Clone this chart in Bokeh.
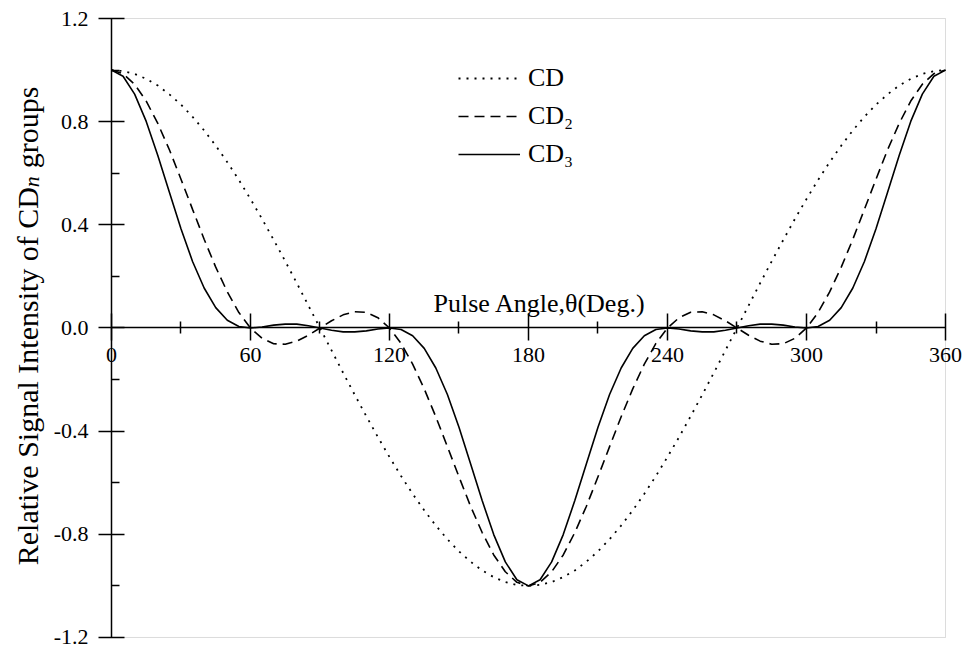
import math
from bokeh.plotting import figure
from bokeh.models import (Range1d, FixedTicker, PrintfTickFormatter, Label, Legend,
                          LegendItem, BoxAnnotation)
from bokeh.embed import file_html
from bokeh.resources import INLINE

# ---- data ----
theta = [0, 5, 10, 15, 20, 25, 30, 35, 40, 45, 50, 55, 60, 65, 70, 75, 80, 85, 90,
         95, 100, 105, 110, 115, 120, 125, 130, 135, 140, 145, 150, 155, 160, 165, 170, 175, 180,
         185, 190, 195, 200, 205, 210, 215, 220, 225, 230, 235, 240, 245, 250, 255, 260, 265, 270,
         275, 280, 285, 290, 295, 300, 305, 310, 315, 320, 325, 330, 335, 340, 345, 350, 355, 360]

cd = [1.000, 0.996, 0.985, 0.966, 0.940, 0.906, 0.866, 0.819, 0.766, 0.707, 0.643, 0.574, 0.500, 0.423, 0.342, 0.259, 0.174, 0.087, 0.000,
      -0.087, -0.174, -0.259, -0.342, -0.423, -0.500, -0.574, -0.643, -0.707, -0.766, -0.819, -0.866, -0.906, -0.940, -0.966, -0.985, -0.996, -1.000,
      -0.996, -0.985, -0.966, -0.940, -0.906, -0.866, -0.819, -0.766, -0.707, -0.643, -0.574, -0.500, -0.423, -0.342, -0.259, -0.174, -0.087, 0.000,
      0.087, 0.174, 0.259, 0.342, 0.423, 0.500, 0.574, 0.643, 0.707, 0.766, 0.819, 0.866, 0.906, 0.940, 0.966, 0.985, 0.996, 1.000]

cd2 = [1.000, 0.986, 0.945, 0.880, 0.793, 0.691, 0.577, 0.460, 0.344, 0.236, 0.140, 0.060, 0.000, -0.040, -0.061, -0.063, -0.051, -0.028, 0.000,
       0.028, 0.051, 0.063, 0.061, 0.040, 0.000, -0.060, -0.140, -0.236, -0.344, -0.460, -0.577, -0.691, -0.793, -0.880, -0.945, -0.986, -1.000,
       -0.986, -0.945, -0.880, -0.793, -0.691, -0.577, -0.460, -0.344, -0.236, -0.140, -0.060, 0.000, 0.040, 0.061, 0.063, 0.051, 0.028, 0.000,
       -0.028, -0.051, -0.063, -0.061, -0.040, 0.000, 0.060, 0.140, 0.236, 0.344, 0.460, 0.577, 0.691, 0.793, 0.880, 0.945, 0.986, 1.000]

cd3 = [1.000, 0.976, 0.907, 0.801, 0.669, 0.526, 0.385, 0.258, 0.155, 0.079, 0.030, 0.006, 0.000, 0.004, 0.011, 0.015, 0.015, 0.009, 0.000,
       -0.009, -0.015, -0.015, -0.011, -0.004, 0.000, -0.006, -0.030, -0.079, -0.155, -0.258, -0.385, -0.526, -0.669, -0.801, -0.907, -0.976, -1.000,
       -0.976, -0.907, -0.801, -0.669, -0.526, -0.385, -0.258, -0.155, -0.079, -0.030, -0.006, 0.000, -0.004, -0.011, -0.015, -0.015, -0.009, 0.000,
       0.009, 0.015, 0.015, 0.011, 0.004, 0.000, 0.006, 0.030, 0.079, 0.155, 0.258, 0.385, 0.526, 0.669, 0.801, 0.907, 0.976, 1.000]

series_labels = ["CD", "CD\u2082", "CD\u2083"]
x_ticks = [0, 60, 120, 180, 240, 300, 360]
x_minor_ticks = [30, 90, 150, 210, 270, 330]
y_ticks = [-1.2, -0.8, -0.4, 0.0, 0.4, 0.8, 1.2]
y_minor_ticks = [-1.0, -0.6, -0.2, 0.2, 0.6, 1.0]
x_limits = (0, 360)
y_limits = (-1.2, 1.2)
x_title = "Pulse Angle,\u03b8(Deg.)"
y_title_parts = ["Relative Signal Intensity of CD", "n", "groups"]

FONT = "Liberation Serif"

# the frame fills the whole canvas; axes are fixed at x = 0 and y = 0
p = figure(width=964, height=651, x_range=Range1d(-47.9, 368.2), y_range=Range1d(-1.2543, 1.2698),
           output_backend="svg", toolbar_location=None, min_border=0)
p.background_fill_color = "white"
p.border_fill_color = "white"
p.outline_line_color = None
p.xgrid.visible = False
p.ygrid.visible = False

# thin grey box around the data area (top, right, bottom edges)
p.add_layout(BoxAnnotation(left=x_limits[0], right=x_limits[1], bottom=y_limits[0], top=y_limits[1],
                           fill_alpha=0, line_color="#8a8a8a", line_width=1, level="underlay"))

xa = p.xaxis[0]
xa.fixed_location = 0
xa.bounds = x_limits
xa.ticker = FixedTicker(ticks=x_ticks, minor_ticks=x_minor_ticks)
xa.axis_line_color = "black"
xa.axis_line_width = 1.5
xa.major_tick_line_color = "black"
xa.major_tick_line_width = 1.5
xa.minor_tick_line_color = "black"
xa.minor_tick_line_width = 1.5
xa.major_tick_in = 14
xa.major_tick_out = 13
xa.minor_tick_in = 6
xa.minor_tick_out = 6
xa.major_label_standoff = 7
xa.major_label_text_font = FONT
xa.major_label_text_font_size = "22px"
xa.major_label_text_color = "black"

ya = p.yaxis[0]
ya.fixed_location = 0
ya.bounds = y_limits
ya.ticker = FixedTicker(ticks=y_ticks, minor_ticks=y_minor_ticks)
ya.formatter = PrintfTickFormatter(format="%.1f")
ya.axis_line_color = "black"
ya.axis_line_width = 1.5
ya.major_tick_line_color = "black"
ya.major_tick_line_width = 1.5
ya.minor_tick_line_color = "black"
ya.minor_tick_line_width = 1.5
ya.major_tick_in = 13
ya.major_tick_out = 13
ya.minor_tick_in = 8
ya.minor_tick_out = 0
ya.major_label_standoff = 10
ya.major_label_text_font = FONT
ya.major_label_text_font_size = "22px"
ya.major_label_text_color = "black"

r1 = p.line(theta, cd, line_color="black", line_width=1.8, line_dash="2 6")
r2 = p.line(theta, cd2, line_color="black", line_width=1.6, line_dash="10 6")
r3 = p.line(theta, cd3, line_color="black", line_width=1.6)

legend = Legend(items=[LegendItem(label=series_labels[0], renderers=[r1]),
                       LegendItem(label=series_labels[1], renderers=[r2]),
                       LegendItem(label=series_labels[2], renderers=[r3])],
                location=(458, 480))
legend.border_line_alpha = 0
legend.background_fill_alpha = 0
legend.glyph_width = 62
legend.glyph_height = 34
legend.label_height = 34
legend.spacing = 4
legend.padding = 0
legend.margin = 0
legend.label_standoff = 8
legend.label_text_font = FONT
legend.label_text_font_size = "26px"
legend.label_text_color = "black"
p.add_layout(legend)

# x-axis title above the axis line
p.add_layout(Label(x=139, y=0.095, text=x_title, text_align="left", text_baseline="alphabetic",
                   text_font=FONT, text_font_size="26px", text_color="black"))

# y-axis title, composed so that the subscript n is italic
common = dict(x=0, y=-0.92, angle=math.pi / 2, text_align="left", text_baseline="alphabetic",
              text_font=FONT, text_color="black")
p.add_layout(Label(text=y_title_parts[0], x_offset=-84, y_offset=0, text_font_size="30px", **common))
p.add_layout(Label(text=y_title_parts[1], x_offset=-80, y_offset=378, text_font_size="22px",
                   text_font_style="italic", **common))
p.add_layout(Label(text=y_title_parts[2], x_offset=-84, y_offset=397, text_font_size="30px", **common))

open("out.html", "w").write(file_html(p, INLINE))
